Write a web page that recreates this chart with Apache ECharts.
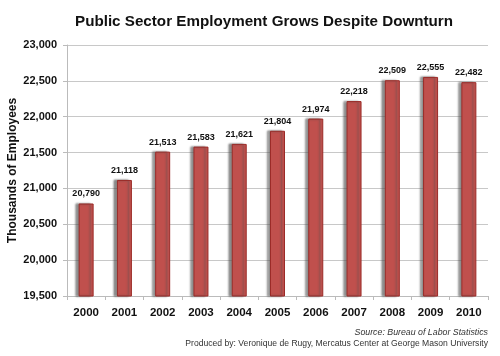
<!DOCTYPE html>
<html><head><meta charset="utf-8">
<script src="https://cdn.jsdelivr.net/npm/echarts@6/dist/echarts.min.js"></script>
<style>html,body{margin:0;padding:0;background:#fff}#c{width:500px;height:356px}</style>
</head><body><div id="c"></div>
<script>
const years = ['2000','2001','2002','2003','2004','2005','2006','2007','2008','2009','2010'];
const employment = [20790, 21118, 21513, 21583, 21621, 21804, 21974, 22218, 22509, 22555, 22482];
const yMin = 19500, yMax = 23000, yStep = 500;
const titleText = 'Public Sector Employment Grows Despite Downturn';
const yAxisName = 'Thousands of Employees';
const sourceText = 'Source: Bureau of Labor Statistics';
const producedText = 'Produced by: Veronique de Rugy, Mercatus Center at George Mason University';

const font = '"Liberation Sans", Arial, Helvetica, sans-serif';
const chart = echarts.init(document.getElementById('c'));
chart.setOption({
  animation: false,
  textStyle: { fontFamily: font },
  title: {
    text: titleText, left: 70, top: 9,
    textStyle: { fontFamily: font, fontSize: 15.2, fontWeight: 'bold', color: '#111' }
  },
  grid: { left: 67, right: 12, top: 45, bottom: 60, containLabel: false, outerBoundsMode: 'none' },
  xAxis: {
    type: 'category', data: years,
    axisLine: { lineStyle: { color: '#bbb', width: 1 } },
    axisTick: { show: true, length: 4, lineStyle: { color: '#bbb' } },
    axisLabel: { interval: 0, color: '#111', fontFamily: font, fontSize: 11.5, fontWeight: 'bold', margin: 11 }
  },
  yAxis: {
    type: 'value', min: yMin, max: yMax, interval: yStep,
    name: yAxisName, nameLocation: 'middle', nameGap: 48, nameMoveOverlap: false,
    nameTextStyle: { fontFamily: font, fontSize: 12, fontWeight: 'bold', color: '#111' },
    axisLine: { show: true, lineStyle: { color: '#bbb' } },
    axisTick: { show: true, length: 4, lineStyle: { color: '#bbb' } },
    splitLine: { lineStyle: { color: '#c8c8c8', width: 1 } },
    axisLabel: {
      color: '#111', fontFamily: font, fontSize: 11, fontWeight: 'bold', margin: 10,
      formatter: v => v.toLocaleString('en-US')
    }
  },
  series: [{
    type: 'bar', data: employment, barWidth: 15,
    itemStyle: {
      color: '#c0504d', borderColor: '#9b2b28', borderWidth: 1,
      shadowColor: 'rgba(80,80,80,0.65)', shadowOffsetX: -3, shadowOffsetY: 0, shadowBlur: 2
    },
    label: {
      show: true, position: 'top', distance: 5,
      color: '#111', fontFamily: font, fontSize: 9, fontWeight: 'bold',
      formatter: p => p.value.toLocaleString('en-US')
    }
  }],
  graphic: [
    { type: 'text', right: 12, top: 328, style: { text: sourceText, fontFamily: font, fontSize: 8.8, fontStyle: 'italic', fill: '#333', textAlign: 'right' } },
    { type: 'text', right: 12, top: 339, style: { text: producedText, fontFamily: font, fontSize: 8.6, fill: '#333', textAlign: 'right' } }
  ]
});
</script></body></html>
